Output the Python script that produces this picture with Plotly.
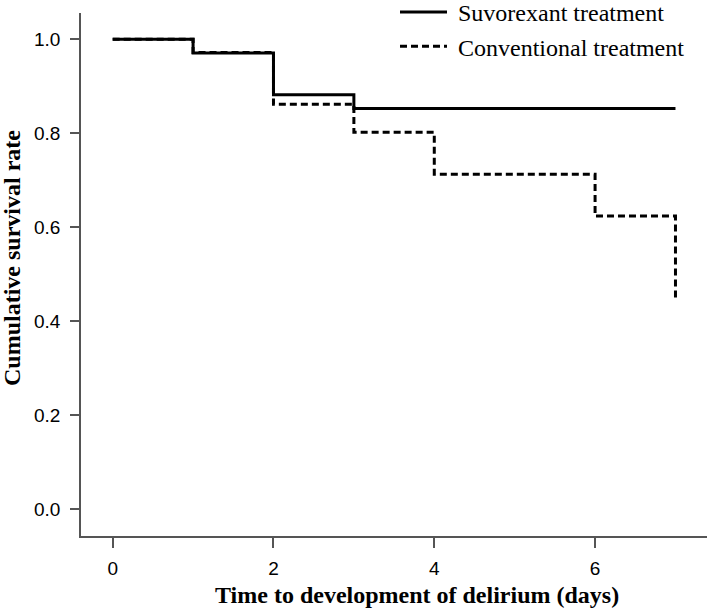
import plotly.graph_objects as go

# Data (Kaplan-Meier step curves)
days_suvo = [0, 1, 2, 3, 7]
surv_suvo = [1.0, 0.971, 0.882, 0.853, 0.853]
days_conv = [0, 1, 2, 3, 4, 6, 7, 7]
surv_conv = [1.0, 0.972, 0.862, 0.802, 0.713, 0.624, 0.624, 0.444]
series_names = ["Suvorexant treatment", "Conventional treatment"]
x_ticks = [0, 2, 4, 6]
y_ticks = [0.0, 0.2, 0.4, 0.6, 0.8, 1.0]

fig = go.Figure()
fig.add_trace(go.Scatter(
    x=days_conv, y=surv_conv, mode="lines", line_shape="hv",
    name="\u00a0" + series_names[1],
    line=dict(color="black", width=3, dash="7px,4px"),
    legendrank=2,
))
fig.add_trace(go.Scatter(
    x=days_suvo, y=surv_suvo, mode="lines", line_shape="hv",
    name="\u00a0" + series_names[0],
    line=dict(color="black", width=3),
    legendrank=1,
))

axis_color = "#555555"
fig.update_layout(
    template="none",
    width=709, height=608,
    margin=dict(l=81, r=2, t=13, b=72, autoexpand=False),
    paper_bgcolor="white", plot_bgcolor="white",
    showlegend=True,
    legend=dict(
        x=(395 - 81) / 626, xanchor="left",
        y=1.044, yanchor="top",
        font=dict(family="Liberation Serif", size=24, color="black"),
        bgcolor="rgba(0,0,0,0)", itemwidth=47,
        tracegroupgap=0,
    ),
    xaxis=dict(
        range=[-0.394, 7.392], tickvals=x_ticks,
        ticktext=[str(v) for v in x_ticks],
        showline=True, linecolor=axis_color, linewidth=1.5,
        ticks="outside", ticklen=10, tickwidth=1.5, tickcolor=axis_color,
        showgrid=False, zeroline=False, automargin=False,
        tickfont=dict(family="Liberation Sans", size=19, color="black"),
        ticklabelstandoff=4,
    ),
    yaxis=dict(
        range=[-0.057, 1.056], tickvals=y_ticks,
        ticktext=[f"{v:.1f}" for v in y_ticks],
        showline=True, linecolor=axis_color, linewidth=1.5,
        ticks="outside", ticklen=9, tickwidth=1.5, tickcolor=axis_color,
        showgrid=False, zeroline=False, automargin=False,
        tickfont=dict(family="Liberation Sans", size=19, color="black"),
        ticklabelstandoff=6,
    ),
    annotations=[
        dict(text="<b>Time to development of delirium (days)</b>",
             xref="paper", yref="paper",
             x=(417 - 81) / 626, y=(536 - 595) / 523,
             xanchor="center", yanchor="middle", showarrow=False,
             font=dict(family="Liberation Serif", size=24, color="black")),
        dict(text="<b>Cumulative survival rate</b>",
             xref="paper", yref="paper",
             x=(12 - 81) / 626, y=(536 - 258) / 523,
             xanchor="center", yanchor="middle", showarrow=False,
             textangle=-90,
             font=dict(family="Liberation Serif", size=24, color="black")),
    ],
)

fig.write_html(
    "out.html",
    config={"displayModeBar": False},
    post_script="document.body.style.margin='0px';",
)
